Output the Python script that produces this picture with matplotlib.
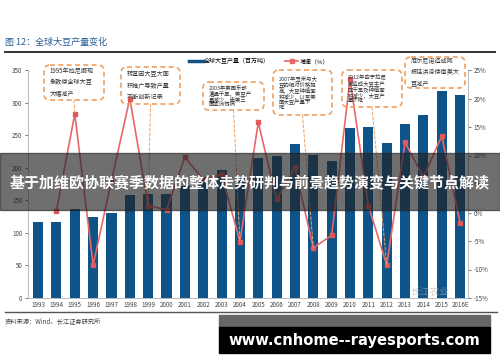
import matplotlib
matplotlib.use('Agg')
import matplotlib.pyplot as plt
from matplotlib.patches import FancyBboxPatch, Rectangle, ConnectionPatch
from matplotlib.lines import Line2D
import numpy as np

plt.rcParams['font.family'] = ['Noto Sans CJK SC', 'DejaVu Sans']
plt.rcParams['axes.unicode_minus'] = False

# 数据
years = ['1993', '1994', '1995', '1996', '1997', '1998', '1999', '2000', '2001', '2002',
         '2003', '2004', '2005', '2006', '2007', '2008', '2009', '2010', '2011', '2012',
         '2013', '2014', '2015', '2016E']
production = [117, 117, 137, 124, 131, 158, 159, 160, 172, 183, 196, 186,
              215, 218, 237, 220, 211, 261, 263, 238, 267, 281, 318, 312]
growth = [np.nan, 0.3, 17.3, -9.2, 5.6, 20.0, 1.2, 0.5, 9.7, 5.8, 6.7, -5.1,
          15.8, 2.3, 7.9, -6.2, -4.0, 23.4, 1.2, -9.2, 12.3, 6.2, 13.4, -1.8]

notes = ['1995年拉尼娜现\n象致使全球大豆\n大幅减产',
         '转基因大豆大面\n积推广导致产量\n不断创新记录',
         '2003年美国东部\n遭遇干旱，美豆产\n量减少，南美三\n国亚洲锈病',
         '2007年玉米与大\n豆的相对价格提\n高，大豆种植面\n积减少，以至美\n国大豆产量下\n降',
         '2012年由于拉尼\n娜造成大豆主产\n区干旱及种植面\n积减少，大豆产\n量下降',
         '厄尔尼诺造成阿\n根廷洪涝使南美大\n豆减产']
note_year = [2, 6, 11, 15, 19, None]

bar_c = '#0F5489'
line_c = '#E8686A'
box_c = '#F0A060'

fig = plt.figure(figsize=(5, 3.62), dpi=100)
x = np.arange(len(years))

ax = fig.add_axes([28 / 500, 1 - 298 / 362, 440 / 500, 228 / 362])
ax.bar(x, production, width=0.55, color=bar_c)
ax.set_ylim(0, 350)
ax.set_xlim(-0.55, len(years) - 0.57)
ax.set_yticks(range(0, 351, 50))
ax.set_xticks(x)
ax.set_xticklabels(years)

ax2 = ax.twinx()
ax2.plot(x, growth, color=line_c, lw=1.2, marker='s', ms=3.2,
         mfc='#E0585B', mec='#E0585B')
ax2.set_ylim(-15, 25)
ax2.set_yticks(range(-15, 26, 5))
ax2.set_yticklabels([f'{v}%' for v in range(-15, 26, 5)])

for a in (ax, ax2):
    for s in a.spines.values():
        s.set_color('#BBBBBB')
        s.set_linewidth(0.7)
    a.spines['top'].set_visible(False)
    a.tick_params(labelsize=4.5, colors='#444444', length=2, width=0.5, pad=2)
ax.tick_params(axis='x', length=0)

handles = [Line2D([], [], color=bar_c, lw=2.5),
           Line2D([], [], color=line_c, lw=1.2, marker='s', ms=2.5)]
fig.legend(handles, ['全球大豆产量（百万吨）', '增速（%）'], loc='center left',
           bbox_to_anchor=(184 / 500, 1 - 61 / 362), ncol=2, frameon=False,
           fontsize=4.3, handlelength=2.2, columnspacing=2.5, handletextpad=0.3)

# 像素坐标的覆盖层
ov = fig.add_axes([0, 0, 1, 1], zorder=10)
ov.set_facecolor('none')
ov.set_xlim(0, 500)
ov.set_ylim(362, 0)
ov.axis('off')

ov.text(5, 42, '图 12：全球大豆产量变化', color='#2A5F96', fontsize=6.5,
        va='center', ha='left')
ov.plot([5, 495], [52, 52], color='#333333', lw=1.4)
ov.plot([5, 497], [312, 312], color='#555555', lw=1.0)
ov.text(5, 321, '资料来源：Wind，长江证券研究所', color='#444444', fontsize=4.5,
        va='center', ha='left')

boxes = [(44, 65, 60, 35), (121, 67, 59, 37), (203, 82, 61, 28),
         (273, 70, 59, 45), (342, 70, 60, 37), (405, 57, 60, 31)]
small = [False, False, True, True, True, False]
for (bx, by, bw, bh), t, sm, yi in zip(boxes, notes, small, note_year):
    ov.add_patch(FancyBboxPatch((bx, by), bw, bh,
                                boxstyle='round,pad=0,rounding_size=6',
                                fill=False, ec=box_c, lw=1.2, ls=(0, (3, 2))))
    ov.text(bx + 6, by + bh / 2, t, fontsize=3.9 if sm else 4.4,
            color='#333333', va='center', ha='left',
            linespacing=1.0 if sm else 1.6)
    if yi is not None:
        cp = ConnectionPatch(xyA=(bx + bw / 2, by + bh), coordsA=ov.transData,
                             xyB=(yi, growth[yi]), coordsB=ax2.transData,
                             color=box_c, lw=0.7, ls=(0, (3, 2)))
        ov.add_artist(cp)

# 水印
ov.text(430, 292, '长江农业', color='#AAAAAA', alpha=0.6, fontsize=7,
        ha='center', va='center')

# 横幅
ov.add_patch(Rectangle((0, 153), 500, 57, color='#222222', alpha=0.65, zorder=20))
ov.text(250, 183, '基于加维欧协联赛季数据的整体走势研判与前景趋势演变与关键节点解读',
        color='white', fontsize=10.8, fontweight='bold', ha='center', va='center',
        zorder=21)

ov.add_patch(Rectangle((219, 315), 271, 12, color='#666666', zorder=20))
ov.add_patch(Rectangle((219, 327), 271, 26, color='black', zorder=20))
ov.text(354, 340, 'www.cnhome--rayesports.com', color='white', fontsize=10.6,
        fontweight='bold', family='DejaVu Sans', ha='center', va='center', zorder=21)

fig.savefig('out.png', dpi=100)
